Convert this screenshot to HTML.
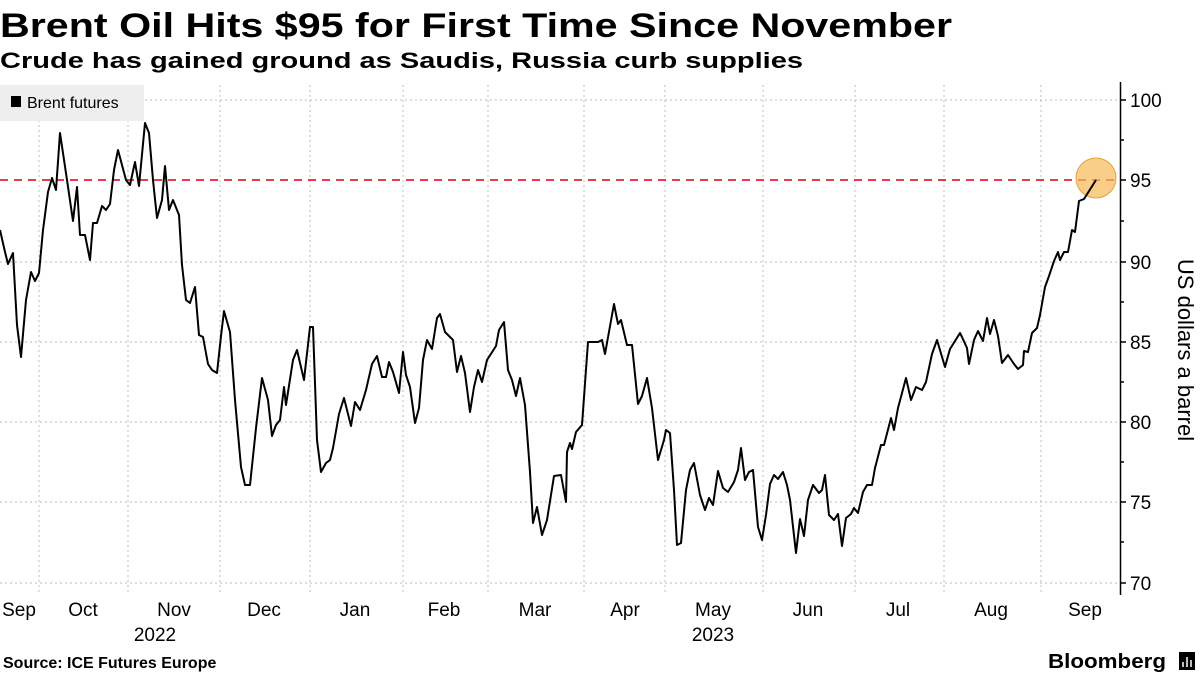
<!DOCTYPE html>
<html><head><meta charset="utf-8"><style>body{margin:0;background:#fff}svg{display:block}</style></head><body>
<svg width="1200" height="675" xmlns="http://www.w3.org/2000/svg" font-family="Liberation Sans, sans-serif">
<text x="0" y="37" font-size="34" font-weight="bold" textLength="952" lengthAdjust="spacingAndGlyphs">Brent Oil Hits $95 for First Time Since November</text>
<text x="0" y="68" font-size="22" font-weight="bold" textLength="803" lengthAdjust="spacingAndGlyphs">Crude has gained ground as Saudis, Russia curb supplies</text>
<g stroke="#bbb" stroke-width="1" stroke-dasharray="2,3">
<line x1="0" x2="1120" y1="100" y2="100"/><line x1="0" x2="1120" y1="262" y2="262"/><line x1="0" x2="1120" y1="342" y2="342"/><line x1="0" x2="1120" y1="422" y2="422"/><line x1="0" x2="1120" y1="502" y2="502"/><line x1="0" x2="1120" y1="583" y2="583"/>
<line x1="39" x2="39" y1="85" y2="595"/><line x1="128" x2="128" y1="85" y2="595"/><line x1="220" x2="220" y1="85" y2="595"/><line x1="310" x2="310" y1="85" y2="595"/><line x1="403" x2="403" y1="85" y2="595"/><line x1="488" x2="488" y1="85" y2="595"/><line x1="584" x2="584" y1="85" y2="595"/><line x1="665" x2="665" y1="85" y2="595"/><line x1="763" x2="763" y1="85" y2="595"/><line x1="855" x2="855" y1="85" y2="595"/><line x1="944" x2="944" y1="85" y2="595"/><line x1="1041" x2="1041" y1="85" y2="595"/>
</g>
<rect x="0" y="85" width="144" height="36" fill="#eee"/>
<rect x="11" y="96" width="10" height="11" fill="#000"/>
<text x="27" y="108" font-size="16">Brent futures</text>
<line x1="0" x2="1120" y1="180" y2="180" stroke="#e8394d" stroke-width="2" stroke-dasharray="8,6"/>
<circle cx="1096" cy="178" r="20" fill="#f7b955" fill-opacity="0.7" stroke="#eaa03a"/>
<polyline fill="none" stroke="#000" stroke-width="2" stroke-linejoin="round" points="0,230 5,252 8,264 13,253 17,325 21,357 26,300 31,272 35,281 39,273 43,230 48,192 52,178 56,190 60,133 67,180 73,221 77,187 80,235 85,235 90,260 93,223 97,223 102,206 106,210 110,204 114,170 118,150 122,165 126,180 130,185 135,162 139,186 145,123 149,133 153,180 157,218 162,200 165,166 169,210 173,200 179,215 182,265 186,300 190,303 195,287 199,335 203,337 208,364 212,370 217,373 221,336 224,311 230,332 235,400 241,467 245,485 250,485 256,428 262,378 268,400 272,436 276,425 280,420 284,387 286,405 293,360 297,350 304,380 310,327 313,327 317,440 321,472 326,463 330,460 333,448 339,414 344,398 351,426 355,402 360,410 366,390 372,364 377,356 382,377 386,377 389,362 393,372 399,393 403,352 406,375 410,387 415,423 419,408 423,360 427,340 432,349 437,318 440,314 445,332 453,340 457,372 461,356 465,373 470,412 474,387 478,370 482,382 487,360 496,346 499,330 504,322 508,370 512,380 516,396 520,378 525,405 530,472 533,523 537,507 542,535 547,520 554,476 561,475 566,502 567,452 570,443 572,449 576,432 582,425 588,342 593,342 598,342 602,340 605,354 614,304 618,324 621,320 627,345 632,345 638,404 642,396 647,378 652,408 658,460 664,440 666,430 670,433 674,490 677,545 681,543 686,490 690,470 694,463 700,495 705,510 709,498 713,505 718,471 723,488 728,492 734,482 738,470 741,448 745,480 749,472 753,470 758,527 762,540 766,515 770,484 774,475 778,479 783,472 787,485 790,500 796,553 800,519 804,536 808,500 813,485 819,493 822,490 825,475 829,515 834,520 838,514 842,546 846,518 851,514 854,508 858,513 863,492 867,485 872,485 875,468 881,445 884,445 891,418 894,430 898,408 906,378 911,400 916,387 922,390 926,382 932,354 937,340 945,367 950,349 955,341 960,333 962,337 967,348 969,364 974,340 978,331 983,341 987,318 990,334 994,320 998,336 1002,363 1008,355 1014,364 1018,369 1023,365 1024,351 1028,352 1032,333 1037,328 1040,315 1045,287 1049,276 1054,261 1058,252 1060,260 1064,252 1068,252 1072,230 1075,232 1079,201 1084,199 1096,180"/>
<line x1="1120.5" x2="1120.5" y1="82" y2="595" stroke="#000" stroke-width="1.5"/>
<g stroke="#000" stroke-width="1.5">
<line x1="1120" x2="1126" y1="100" y2="100"/><line x1="1120" x2="1126" y1="180" y2="180"/><line x1="1120" x2="1126" y1="262" y2="262"/><line x1="1120" x2="1126" y1="342" y2="342"/><line x1="1120" x2="1126" y1="422" y2="422"/><line x1="1120" x2="1126" y1="502" y2="502"/><line x1="1120" x2="1126" y1="583" y2="583"/>
<line x1="1120" x2="1124" y1="140" y2="140"/><line x1="1120" x2="1124" y1="221" y2="221"/><line x1="1120" x2="1124" y1="302" y2="302"/><line x1="1120" x2="1124" y1="382" y2="382"/><line x1="1120" x2="1124" y1="462" y2="462"/><line x1="1120" x2="1124" y1="542" y2="542"/>
</g>
<g font-size="19" fill="#000">
<text x="1130" y="107">100</text><text x="1130" y="187">95</text><text x="1130" y="269">90</text><text x="1130" y="349">85</text><text x="1130" y="429">80</text><text x="1130" y="509">75</text><text x="1130" y="590">70</text>
</g>
<text transform="translate(1178,350) rotate(90)" font-size="22" text-anchor="middle">US dollars a barrel</text>
<g font-size="19" text-anchor="middle">
<text x="19" y="616">Sep</text><text x="83" y="616">Oct</text><text x="174" y="616">Nov</text><text x="264" y="616">Dec</text><text x="355" y="616">Jan</text><text x="444" y="616">Feb</text><text x="535" y="616">Mar</text><text x="625" y="616">Apr</text><text x="713" y="616">May</text><text x="808" y="616">Jun</text><text x="898" y="616">Jul</text><text x="991" y="616">Aug</text><text x="1085" y="616">Sep</text>
<text x="155" y="641">2022</text><text x="713" y="641">2023</text>
</g>
<text x="3" y="668" font-size="16" font-weight="bold">Source: ICE Futures Europe</text>
<text x="1048" y="668" font-size="20" font-weight="bold" textLength="118" lengthAdjust="spacingAndGlyphs">Bloomberg</text>
<rect x="1179" y="652" width="16" height="18" fill="#000"/>
<g stroke="#fff" stroke-width="1.5"><line x1="1183" y1="667" x2="1183" y2="662"/><line x1="1187" y1="667" x2="1187" y2="657"/><line x1="1191" y1="667" x2="1191" y2="660"/></g>
</svg>
</body></html>
